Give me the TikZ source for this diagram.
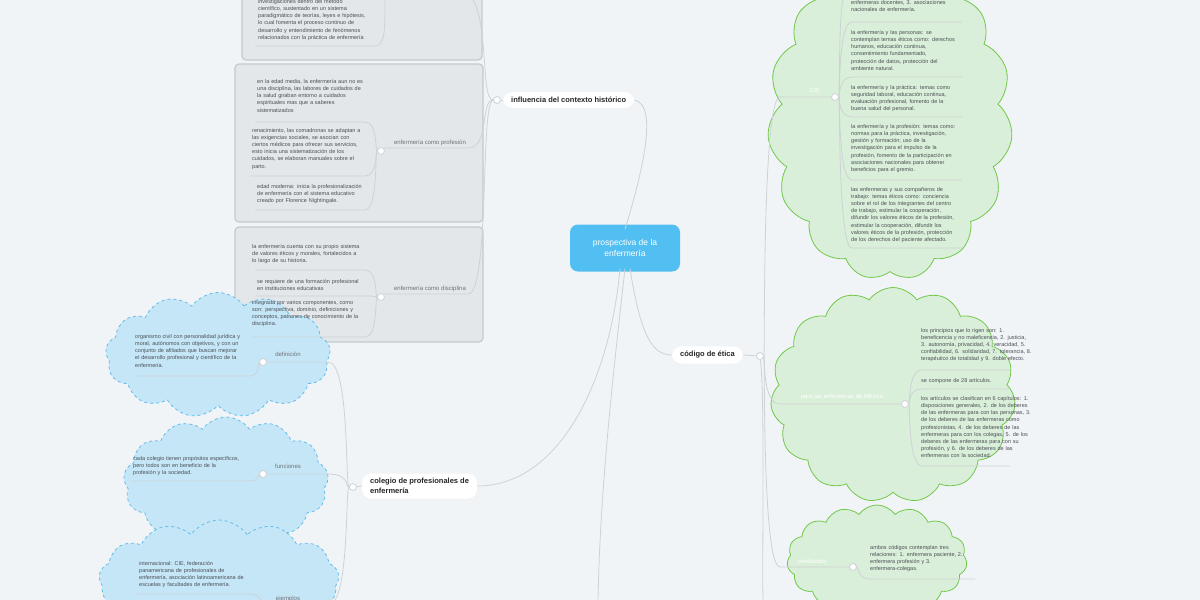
\documentclass[tikz,border=0pt]{standalone}
\usepackage{fontspec}
\setmainfont{Liberation Sans}
\usetikzlibrary{shapes.symbols}
\definecolor{bg}{HTML}{F0F4F7}
\definecolor{cen}{HTML}{52BFF2}
\definecolor{gbox}{HTML}{E3E7EA}
\definecolor{gbord}{HTML}{C4C9CD}
\definecolor{lin}{HTML}{CDD2D6}
\definecolor{bcl}{HTML}{C5E6F7}
\definecolor{bclb}{HTML}{62BCEB}
\definecolor{gcl}{HTML}{DAEFD9}
\definecolor{gclb}{HTML}{72C84A}
\definecolor{txt}{HTML}{4A4F55}
\begin{document}
\begin{tikzpicture}[x=1pt,y=-1pt,
  txt/.style={font=\fontsize{5.5}{7.2}\selectfont, text=txt, align=left, inner sep=0pt, anchor=north west},
  lab/.style={font=\fontsize{6}{7}\selectfont, text=txt!80, inner sep=0pt},
  wlab/.style={font=\fontsize{6}{7}\selectfont, text=white, inner sep=0pt},
  pill/.style={fill=white, rounded corners=9pt, font=\bfseries\fontsize{7.5}{9.5}\selectfont, text=black!85, align=left, inner xsep=8pt, inner ysep=5pt},
  ln/.style={draw=lin, line width=0.8pt},
  jn/.style={circle, draw=lin, fill=white, line width=0.8pt, minimum size=7pt, inner sep=0pt},
  gb/.style={fill=gbox, draw=gbord, line width=1.2pt, rounded corners=4pt},
  bc/.style={cloud, cloud puffs=13, cloud puff arc=110, fill=bcl, draw=bclb, dashed, line width=0.8pt, inner sep=0pt},
  gc/.style={cloud, cloud puffs=15, cloud puff arc=110, fill=gcl, draw=gclb, line width=0.8pt, inner sep=0pt}]
\useasboundingbox (0,0) rectangle (1200,600);
\fill[bg] (0,0) rectangle (1200,600);

% ---------- right green clouds
\node[gc, minimum width=245pt, minimum height=320pt] (cA) at (890,120) {};
\node[gc, minimum width=245pt, minimum height=215pt] (cB) at (893,395) {};
\node[gc, minimum width=180pt, minimum height=110pt] (cC) at (877,560) {};

% ---------- left gray boxes
\draw[gb] (242,-8) rectangle (482,60);
\draw[gb] (235,64) rectangle (483,222);
\draw[gb] (235,227) rectangle (483,342);

% ---------- left blue clouds
\node[bc, minimum width=225pt, minimum height=125pt] (b1) at (218,355) {};
\node[bc, minimum width=205pt, minimum height=130pt] (b2) at (226,482) {};
\node[bc, minimum width=240pt, minimum height=120pt] (b3) at (219,580) {};

% ---------- central and main nodes
\node[fill=cen, rounded corners=8pt, minimum width=110pt, minimum height=47pt, align=center, text=white, font=\fontsize{8.5}{11}\selectfont] (c) at (625,248) {prospectiva de la\\enfermería};
\node[pill, anchor=west] (inf) at (503,100) {influencia del contexto histórico};
\node[pill, anchor=west] (cod) at (672,355) {código de ética};
\node[pill, anchor=west] (col) at (362,486) {colegio de profesionales de\\enfermería};
\coordinate (down) at (598,600);

\draw[ln] (c.north) ++(0,5) .. controls (640,180) and (660,105) .. (inf.east);
\draw[ln] (c.south) ++(5,-3) .. controls (640,330) and (650,355) .. (cod.west);
\draw[ln] (c.south) ++(-5,-3) .. controls (610,380) and (560,486) .. (col.east);
\draw[ln] (c.south) ++(0,-3) .. controls (610,400) and (600,500) .. (down);

% ---------- influencia branches
\node[jn] (ji) at (497,100) {};
\draw[ln] (inf.west) -- (ji);
\node[lab, anchor=south] (prof) at (430,146) {enfermería como profesión};
\node[lab, anchor=south] (disc) at (430,292) {enfermería como disciplina};
\coordinate (t0) at (470,-5);
\draw[ln] (ji) .. controls (480,100) and (490,20) .. (t0);
\draw[ln] (ji) .. controls (480,100) and (490,148) .. (468,148) -- (384,148);
\draw[ln] (ji) .. controls (480,100) and (490,294) .. (468,294) -- (384,294);

\node[txt, text width=130pt] (h0) at (258,-1) {investigaciones dentro del método\\científico, sustentado en un sistema\\paradigmático de teorías, leyes e hipótesis,\\lo cual fomenta el proceso continuo de\\desarrollo y entendimiento de fenómenos\\relacionados con la práctica de enfermería};
\draw[ln] (255,46) -- (375,46) .. controls (385,46) and (385,30) .. (385,0);

\node[jn] (jp) at (381,151) {};
\node[txt, text width=120pt] (p1) at (257,79) {en la edad media, la enfermería aun no es\\una disciplina, las labores de cuidados de\\la salud giraban entorno a cuidados\\espirituales mas que a saberes\\sistematizados};
\node[txt, text width=130pt] (p2) at (252,128) {renacimiento, las comadronas se adaptan a\\las exigencias sociales, se asocian con\\ciertos médicos para ofrecer sus servicios,\\esto inicia una sistematización de los\\cuidados, se elaboran manuales sobre el\\parto.};
\node[txt, text width=120pt] (p3) at (257,184) {edad moderna: inicia la profesionalización\\de enfermería con el sistema educativo\\creado por Florence Nightingale.};
\draw[ln] (jp) .. controls (375,151) and (378,122) .. (365,122) -- (255,122);
\draw[ln] (jp) .. controls (375,151) and (378,176) .. (365,176) -- (250,176);
\draw[ln] (jp) .. controls (375,151) and (378,210) .. (365,210) -- (255,210);

\node[jn] (jd) at (381,297) {};
\node[txt, text width=130pt] (d1) at (252,244) {la enfermería cuenta con su propio sistema\\de valores éticos y morales, fortalecidos a\\lo largo de su historia.};
\node[txt, text width=125pt] (d2) at (257,279) {se requiere de una formación profesional\\en instituciones educativas};
\node[txt, text width=130pt] (d3) at (252,300) {integrada por varios componentes, como\\son: perspectiva, dominio, definiciones y\\conceptos, patrones de conocimiento de la\\disciplina.};
\draw[ln] (jd) .. controls (375,297) and (378,270) .. (365,270) -- (255,270);
\draw[ln] (jd) .. controls (375,297) and (378,296) .. (365,296) -- (255,296);
\draw[ln] (jd) .. controls (375,297) and (378,337) .. (365,337) -- (252,337);

% ---------- colegio branches
\node[jn] (jc) at (353,487) {};
\draw[ln] (col.west) -- (jc);
\node[lab, anchor=south] (def) at (288,357) {definición};
\node[lab, anchor=south] (fun) at (288,469) {funciones};
\node[lab, anchor=south] (eje) at (288,602) {ejemplos};
\draw[ln] (jc) .. controls (345,487) and (350,362) .. (328,362) -- (268,362);
\draw[ln] (jc) .. controls (345,487) and (350,474) .. (328,474) -- (268,474);
\draw[ln] (jc) .. controls (345,487) and (350,605) .. (328,605);
\node[jn] (j1) at (263,362) {};
\node[jn] (j2) at (263,474) {};
\node[txt, text width=120pt] (c1) at (135,334) {organismo civil con personalidad jurídica y\\moral, autónomos con objetivos, y con un\\conjunto de afiliados que buscan mejorar\\el desarrollo profesional y científico de la\\enfermería.};
\draw[ln] (j1) .. controls (258,362) and (260,376) .. (250,376) -- (133,376);
\node[txt, text width=120pt] (c2) at (133,456) {cada colegio tienen propósitos específicos,\\pero todos son en beneficio de la\\profesión y la sociedad.};
\draw[ln] (j2) .. controls (258,474) and (260,481) .. (250,481) -- (133,481);
\node[txt, text width=120pt] (c3) at (139,561) {internacional: CIE, federación\\panamericana de profesionales de\\enfermería, asociación latinoamericana de\\escuelas y facultades de enfermería.};
\draw[ln] (135,594) -- (250,594) .. controls (258,594) and (262,600) .. (264,604);

% ---------- código branches
\node[jn] (jk) at (760,356) {};
\draw[ln] (cod.east) -- (jk);
\node[wlab, anchor=south] (cie) at (815,93) {CIE};
\node[wlab, anchor=south] (mex) at (842,400) {para las enfermeras de México};
\node[wlab, anchor=south] (sim) at (812,564) {similitudes};
\draw[ln] (jk) .. controls (765,356) and (762,97) .. (780,97) -- (832,97);
\draw[ln] (jk) .. controls (765,356) and (762,404) .. (780,404) -- (902,404);
\draw[ln] (jk) .. controls (765,356) and (762,567) .. (780,567) -- (850,567);
\draw[ln] (jk) .. controls (765,400) and (762,560) .. (763,600);
\node[jn] (jcie) at (835,97) {};
\node[jn] (jmex) at (905,404) {};
\node[jn] (jsim) at (853,567) {};

\node[txt, text width=120pt] (e0) at (851,0) {enfermeras docentes, 3. asociaciones\\nacionales de enfermería.};
\node[txt, text width=120pt] (e1) at (851,30) {la enfermería y las personas: se\\contemplan temas éticos como: derechos\\humanos, educación continua,\\consentimiento fundamentado,\\protección de datos, protección del\\ambiente natural.};
\node[txt, text width=120pt] (e2) at (851,85) {la enfermería y la práctica: temas como\\seguridad laboral, educación continua,\\evaluación profesional, fomento de la\\buena salud del personal.};
\node[txt, text width=120pt] (e3) at (851,124) {la enfermería y la profesión: temas como:\\normas para la práctica, investigación,\\gestión y formación; uso de la\\investigación para el impulso de la\\profesión, fomento de la participación en\\asociaciones nacionales para obtener\\beneficios para el gremio.};
\node[txt, text width=120pt] (e4) at (851,187) {las enfermeras y sus compañeros de\\trabajo: temas éticos como: conciencia\\sobre el rol de los integrantes del centro\\de trabajo, estimular la cooperación,\\difundir los valores éticos de la profesión,\\estimular la cooperación, difundir los\\valores éticos de la profesión, protección\\de los derechos del paciente afectado.};
\draw[ln] (jcie) .. controls (840,97) and (838,0) .. (845,-5);
\draw[ln] (jcie) .. controls (840,97) and (838,22) .. (852,22) -- (962,22);
\draw[ln] (jcie) .. controls (840,97) and (838,77) .. (852,77) -- (962,77);
\draw[ln] (jcie) .. controls (840,97) and (838,117) .. (852,117) -- (962,117);
\draw[ln] (jcie) .. controls (840,97) and (838,180) .. (852,180) -- (962,180);
\draw[ln] (jcie) .. controls (840,97) and (838,248) .. (852,248) -- (962,248);

\node[txt, text width=120pt] (m1) at (921,328) {los principios que lo rigen son: 1.\\beneficencia y no maleficencia, 2. justicia,\\3. autonomía, privacidad, 4. veracidad, 5.\\confiabilidad, 6. solidaridad, 7. tolerancia, 8.\\terapéutico de totalidad y 9. doble efecto.};
\node[txt, text width=120pt] (m2) at (921,378) {se compone de 28 artículos.};
\node[txt, text width=120pt] (m3) at (921,396) {los artículos se clasifican en 6 capítulos: 1.\\disposiciones generales, 2. de los deberes\\de las enfermeras para con las personas, 3.\\de los deberes de las enfermeras como\\profesionistas, 4. de los deberes de las\\enfermeras para con los colegas, 5. de los\\deberes de las enfermeras para con su\\profesión, y 6. de los deberes de las\\enfermeras con la sociedad.};
\draw[ln] (jmex) .. controls (910,404) and (908,370) .. (922,370) -- (1010,370);
\draw[ln] (jmex) .. controls (910,404) and (908,389) .. (922,389) -- (1010,389);
\draw[ln] (jmex) .. controls (910,404) and (908,466) .. (922,466) -- (1010,466);

\node[txt, text width=100pt] (s1) at (870,545) {ambos códigos contemplan tres\\relaciones: 1. enfermera paciente, 2.\\enfermera profesión y 3.\\enfermera-colegas.};
\draw[ln] (jsim) .. controls (858,567) and (858,579) .. (870,579) -- (975,579);
\end{tikzpicture}
\end{document}
